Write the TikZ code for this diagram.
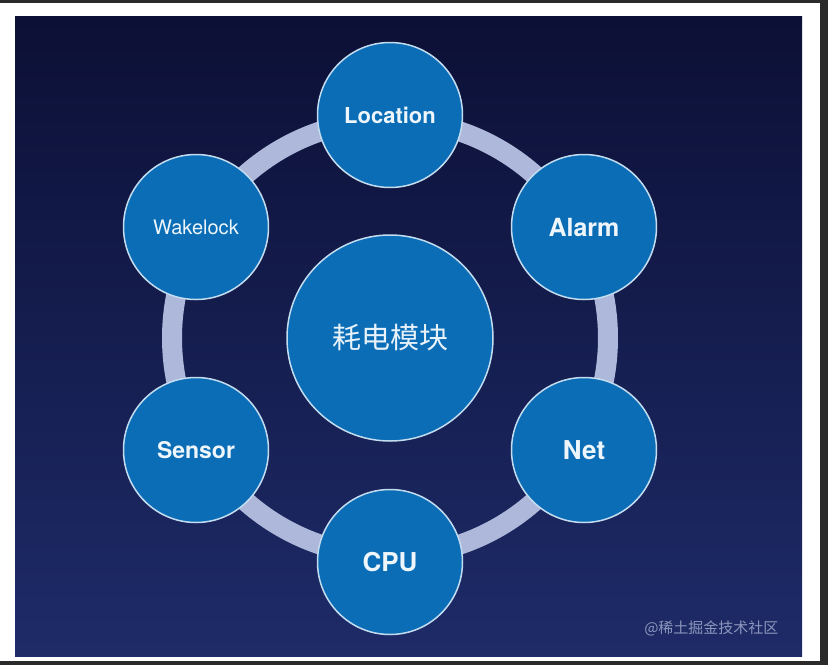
\documentclass[tikz,border=0pt]{standalone}
\usepackage{fontspec}
\setmainfont{TeX Gyre Heros}
\newfontfamily\cjk{Noto Sans CJK SC}
\definecolor{bgtop}{HTML}{0C1036}
\definecolor{bgbot}{HTML}{1E2B68}
\definecolor{ringc}{HTML}{AEB8DA}
\definecolor{nodefill}{HTML}{0A6DB6}
\definecolor{nodeedge}{HTML}{C3DCF0}
\definecolor{txt}{HTML}{EEF6FC}
\definecolor{framec}{HTML}{2A2A2A}
\definecolor{wm}{HTML}{8C96BC}
\tikzset{
  sat/.style={circle, fill=nodefill, draw=nodeedge, line width=1.5pt, minimum size=145pt, inner sep=0pt, text=txt},
  hub/.style={circle, fill=nodefill, draw=nodeedge, line width=1.5pt, minimum size=206pt, inner sep=0pt, text=txt!85!nodeedge},
}
\begin{document}
\begin{tikzpicture}[x=1pt,y=-1pt]
\useasboundingbox (0,0) rectangle (828,665);
\fill[white] (0,0) rectangle (828,665);
\fill[framec] (0,0) rectangle (828,3);
\fill[framec] (820,0) rectangle (828,665);
\fill[framec] (0,661) rectangle (828,665);
\shade[top color=bgtop, bottom color=bgbot] (15,16) rectangle (802,656);
\draw[ringc, line width=20pt] (390,338) circle[radius=218];
\node[hub] (hub) at (390,338) {\cjk\fontsize{29}{34}\selectfont 耗电模块};
\node[sat] (loc) at (390,115) {\fontsize{22}{26}\selectfont\bfseries Location};
\node[sat] (alarm) at (584,227) {\fontsize{25}{30}\selectfont\bfseries Alarm};
\node[sat] (net) at (584,450) {\fontsize{26}{30}\selectfont\bfseries Net};
\node[sat] (cpu) at (390,562) {\fontsize{26}{30}\selectfont\bfseries CPU};
\node[sat] (sensor) at (196,450) {\fontsize{23}{28}\selectfont\bfseries Sensor};
\node[sat] (wake) at (196,227) {\fontsize{20}{24}\selectfont Wakelock};
\node[text=wm, anchor=east] (mark) at (782,628) {\cjk\fontsize{15}{18}\selectfont @稀土掘金技术社区};
\end{tikzpicture}
\end{document}
